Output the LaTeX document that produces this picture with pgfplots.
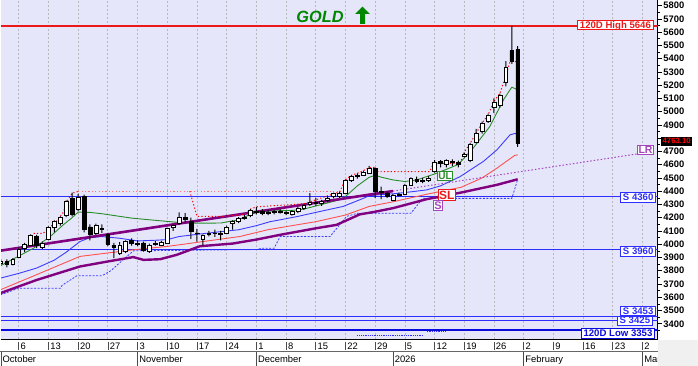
\documentclass[border=0pt]{standalone}
\usepackage{pgfplots}
\pgfplotsset{compat=1.18}
\usepackage{pgfplotstable}
\usepackage{fontspec}
\setmainfont{Liberation Sans}
\newcommand{\fs}[1]{\fontsize{#1}{#1}\selectfont}
\definecolor{bgl}{RGB}{230,230,250}
\definecolor{hred}{RGB}{235,25,25}
\definecolor{sblue}{RGB}{45,45,255}
\definecolor{dblue}{RGB}{10,10,220}
\definecolor{mgreen}{RGB}{40,140,40}
\definecolor{mblue}{RGB}{60,60,255}
\definecolor{mred}{RGB}{255,80,80}
\definecolor{mpurple}{RGB}{128,0,128}
\definecolor{lrpurple}{RGB}{165,70,190}
\definecolor{gridc}{RGB}{185,185,190}
\definecolor{goldgreen}{RGB}{0,135,0}
\definecolor{botgray}{RGB}{240,240,240}

\pgfplotstableread{
i o h l c
-3 3855 3885 3840 3870
-2 3870 3885 3825 3848
-1 3852 3895 3840 3885
0 3905 3975 3900 3965
1 3970 4010 3940 4000
2 3995 4075 3985 4065
3 4058 4070 3970 3995
4 3980 4020 3965 4010
5 4035 4135 4030 4125
6 4125 4180 4090 4170
7 4160 4210 4140 4200
8 4220 4330 4205 4320
9 4345 4390 4210 4225
10 4265 4380 4250 4355
11 4360 4375 4090 4115
12 4130 4150 4030 4075
13 4085 4155 4070 4140
14 4120 4150 4085 4110
15 4075 4085 3985 4000
16 3990 4010 3895 3980
17 3935 4015 3920 3995
18 3950 4030 3935 4020
19 4030 4045 3990 4005
20 4000 4030 3985 4010
21 4010 4020 3945 3955
22 3945 4005 3935 3995
23 4000 4025 3990 4010
24 3995 4025 3985 4015
25 4010 4125 4005 4120
26 4125 4150 4100 4140
27 4160 4240 4150 4205
28 4200 4235 4165 4185
29 4170 4200 4040 4095
30 4085 4115 4020 4080
31 4035 4075 3990 4070
32 4075 4100 4060 4085
33 4085 4110 4055 4080
34 4075 4100 4030 4085
35 4085 4140 4080 4130
36 4160 4180 4110 4170
37 4170 4205 4160 4195
38 4195 4220 4185 4205
39 4215 4265 4205 4255
40 4250 4280 4225 4240
41 4245 4265 4220 4235
42 4235 4260 4220 4240
43 4240 4260 4225 4245
44 4245 4265 4230 4240
45 4240 4250 4220 4235
46 4225 4255 4215 4245
47 4245 4280 4235 4270
48 4270 4305 4260 4295
49 4300 4385 4290 4315
50 4315 4350 4290 4310
51 4310 4335 4290 4320
52 4330 4365 4315 4345
53 4360 4390 4345 4385
54 4362 4395 4350 4385
55 4385 4490 4380 4485
56 4485 4520 4470 4510
57 4510 4535 4495 4520
58 4523 4555 4515 4545
59 4538 4590 4530 4570
60 4570 4580 4350 4400
61 4390 4435 4340 4400
62 4385 4400 4350 4360
63 4335 4380 4325 4370
64 4370 4390 4360 4375
65 4375 4455 4370 4445
66 4448 4505 4440 4495
67 4490 4510 4460 4473
68 4475 4500 4460 4485
69 4485 4515 4470 4500
70 4550 4635 4540 4620
71 4625 4635 4580 4610
72 4600 4640 4580 4630
73 4625 4640 4590 4615
74 4620 4630 4580 4600
75 4665 4690 4655 4680
76 4630 4765 4620 4755
77 4765 4870 4760 4835
78 4850 4925 4835 4910
79 4925 4985 4915 4975
80 5030 5100 4990 5070
81 5045 5135 5030 5120
82 5220 5380 5190 5335
83 5460 5646 5360 5380
84 5470 5495 4735 4763.1
}\candles

\pgfplotsset{base/.style={
  at={(1pt,26.7pt)}, anchor=south west,
  scale only axis, width=656.7pt, height=339.3pt,
  xmin=-2.98, xmax=107.56, ymin=3283, ymax=5842,
  clip mode=individual}}

\begin{document}
\begin{tikzpicture}[x=1pt,y=1pt]
\path[use as bounding box] (0,0) rectangle (698,366);
\fill[white] (0,0) rectangle (698,366);

\begin{axis}[base,
  axis background/.style={fill=bgl},
  axis x line*=bottom, axis y line*=right,
  axis line style={black, line width=0.8pt},
  xtick={0,5,...,105}, xticklabels={}, xmajorgrids,
  x tick style={draw=none},
  grid style={gridc, line width=0.7pt, dash pattern=on 2.2pt off 1.8pt},
  ytick={3400,3500,...,4700,4900,5000,...,5800},
  extra y ticks={4800}, extra y tick labels={},
  extra y tick style={tick style={black, line width=0.6pt}},
  minor ytick={3350,3450,...,5750},
  y tick style={black, line width=0.6pt},
  tick align=outside, major tick length=4pt, minor tick length=2pt,
  yticklabel style={font=\fs{9.4}\bfseries, anchor=west, inner sep=0pt, xshift=1.5pt},
  /pgf/number format/1000 sep={},
  /pgf/number format/assume math mode=true,
]
% horizontal levels
\addplot[hred, line width=1.8pt] coordinates {(-3,5646) (108,5646)};
\addplot[sblue, line width=1.4pt] coordinates {(-3,4360) (108,4360)};
\addplot[sblue, line width=1.2pt] coordinates {(-3,3960) (108,3960)};
\addplot[sblue, line width=1.1pt] coordinates {(-3,3453) (108,3453)};
\addplot[sblue, line width=1.1pt] coordinates {(-3,3425) (108,3425)};
\addplot[dblue, line width=1.9pt] coordinates {(-3,3353) (108,3353)};
% small dotted lows
\addplot[sblue, densely dotted, line width=0.8pt] coordinates {(57,3315) (68,3315)};
\addplot[sblue, densely dotted, line width=0.8pt] coordinates {(68.7,3340) (72,3340)};
% blue dashed stop line
\addplot[mblue, dash pattern=on 2pt off 1.5pt, line width=0.8pt] coordinates {
(-3.1,3618) (-0.5,3660) (0,3668) (7,3668) (7.3,3690) (9.8,3762) (14,3762) (15.5,3800) (18,3900) (19.3,3950) (40,3960) (41,3970) (43,3970) (44,4058) (52.4,4058) (55.2,4210) (57,4233) (66,4233) (68,4346) (83,4346) (84,4490)};
% purple thick MA
\addplot[mpurple, line width=2.4pt, line join=round] coordinates {
(-3.1,3631) (3,3730) (10.3,3832) (15,3870) (19.3,3903) (21,3882) (23.8,3887) (26.6,3920) (30.5,3985) (36,4005) (40,4035) (44,4071) (50,4120) (53.5,4146) (57.4,4225) (60,4245) (63,4272) (68.7,4340) (74.5,4390) (80.5,4448) (84,4490)};
% red MA
\addplot[mred, line width=0.9pt, line join=round] coordinates {
(-3.1,3656) (3,3770) (10.3,3908) (19.3,3958) (24.9,3983) (27.1,3996) (37.2,4058) (42,4110) (44,4125) (50,4170) (55,4220) (59,4285) (63,4320) (69,4380) (74.5,4430) (78,4500) (80.5,4574) (83.5,4670) (84,4674)};
% blue MA
\addplot[mblue, line width=0.9pt, line join=round] coordinates {
(-3.1,3744) (0,3780) (3,3820) (6,3880) (8,3940) (10.3,4020) (12,4050) (14,4058) (17,4045) (20,4025) (23,4030) (25,4035) (27,4058) (29.4,4071) (33,4090) (37,4109) (40,4140) (42.3,4170) (44,4184) (47,4210) (50.7,4247) (54.6,4285) (57.4,4335) (59,4365) (61,4375) (63,4380) (66,4395) (68.7,4410) (71,4440) (74.3,4510) (76,4560) (78.2,4624) (80.5,4712) (82.7,4825) (83.5,4835) (84,4833)};
% green MA
\addplot[mgreen, line width=0.9pt, line join=round] coordinates {
(-3.1,3837) (-0.3,3903) (2.5,3970) (5.3,4058) (7.5,4146) (8.9,4197) (10,4242) (12,4240) (14,4230) (19,4197) (25,4172) (28,4160) (31,4159) (34,4160) (37,4184) (38.5,4215) (40,4240) (43,4252) (46,4255) (48,4265) (51,4300) (54,4335) (55,4360) (57,4440) (59,4505) (60,4520) (61,4506) (63,4485) (65,4473) (67,4485) (70,4530) (72,4565) (74,4602) (76.5,4725) (79.3,4888) (81.6,5089) (83,5185) (84,5164)};
% trend line and its LR extension
\addplot[mpurple, line width=2.6pt] coordinates {(-2.98,3952) (63,4401)};
\addplot[lrpurple, line width=1pt, dash pattern=on 1.5pt off 2pt] coordinates {(63,4401) (104.1,4681)};
% dotted resistance / trailing lines
\addplot[red!55, line width=1pt, dash pattern=on 1.2pt off 2.2pt] coordinates {(10,4400) (55,4400)};
\addplot[red, line width=1pt, dash pattern=on 1.2pt off 2.2pt] coordinates {
(2.5,4082) (4.1,4082) (5.3,4130) (6.5,4180) (7.5,4240) (8.3,4335) (9,4385) (10,4398)};
\addplot[red, line width=1pt, dash pattern=on 1.2pt off 2.2pt] coordinates {
(28.8,4400) (30,4210) (34.4,4210) (36,4215) (38,4225) (39,4265) (40,4282) (48,4305) (49,4320) (52,4365) (54,4395) (55,4485) (56,4520) (57,4535) (58,4555) (59,4578) (60,4580) (60.3,4548) (69.2,4548) (69.8,4610) (74.3,4610) (75,4695) (76,4762) (77,4838) (78,4913) (79,4976) (80,5077) (81,5139) (82,5270) (82.7,5378) (84,5378)};
\end{axis}

% wicks
\begin{axis}[base, hide axis, ybar stacked, bar width=1pt]
\addplot[draw=none, fill=none] table[x=i, y=l] {\candles};
\addplot[draw=none, fill=black] table[x=i, y expr={\thisrow{h}-\thisrow{l}}] {\candles};
\end{axis}

% bodies
\begin{axis}[base, hide axis, ybar stacked, bar width=3.8pt]
\addplot[draw=none, fill=none] table[x=i, y expr={min(\thisrow{o},\thisrow{c})}] {\candles};
\addplot[draw=black, fill=white, line width=0.6pt] table[x=i, y expr={max(\thisrow{c}-\thisrow{o},0)}] {\candles};
\addplot[draw=black, fill=black, line width=0.6pt] table[x=i, y expr={max(\thisrow{o}-\thisrow{c},0)}] {\candles};
\end{axis}

% bottom date band
\draw[gray!80!black, line width=0.6pt] (0,14.3) -- (657.7,14.3);
\foreach \d/\lab in {0/6,5/13,10/20,15/27,20/3,25/10,30/17,35/24,40/1,45/8,50/15,55/22,60/29,65/5,70/12,75/19,80/26,85/2,90/9,95/16,100/23,105/2}{
  \pgfmathsetmacro{\xx}{18.7+5.9408*\d}
  \draw[gray!60!black, line width=0.6pt] (\xx,24.3) -- (\xx,16);
  \node[anchor=base west, inner sep=0pt, font=\fs{9.4}] at (\xx+1.8,16.8) {\lab};
}
\foreach \d/\lab in {-3/October,20/November,40/December,63/2026,85/February,105/Mar}{
  \pgfmathsetmacro{\xx}{18.7+5.9408*\d}
  \draw[gray!60!black, line width=0.6pt] (\xx,14.3) -- (\xx,0);
  \node[anchor=base west, inner sep=0pt, font=\fs{9.4}] at (\xx+1.6,3.4) {\lab};
}
\fill[botgray] (658.1,0) rectangle (698,26.3);

% right level labels
\tikzset{lbl/.style={fill=white, line width=0.8pt, font=\fs{9.6}\bfseries, inner xsep=2.2pt, inner ysep=0.9pt, text height=7pt, text depth=0.9pt, anchor=east}}
\node[lbl, draw=hred, text=hred] at (653.5,341) {120D High 5646};
\node[lbl, draw=sblue, text=sblue] at (656,168.3) {S 4360};
\node[lbl, draw=sblue, text=sblue] at (656,114.3) {S 3960};
\node[lbl, draw=sblue, text=sblue] at (656,55) {S 3453};
\node[lbl, draw=sblue, text=sblue] at (652.7,45.2) {S 3425};
\node[lbl, draw=dblue, text=dblue] at (655,32.3) {120D Low 3353};
\node[fill=black, text=red, font=\fs{7.8}\bfseries, inner xsep=1.2pt, inner ysep=1.7pt, anchor=west] at (661.2,224.7) {4763.10};
\node[fill=white, draw=lrpurple, text=lrpurple, line width=0.8pt, font=\fs{10.5}\bfseries, inner sep=1pt] at (645.5,216) {LR};
\node[fill=white, draw=mgreen, text=mgreen, line width=0.8pt, font=\fs{10}\bfseries, inner sep=1pt] at (445,189.7) {UL};
\node[fill=white, draw=hred, text=hred, line width=0.8pt, font=\fs{12}\bfseries, inner sep=1pt] at (446.7,171) {SL};
\node[fill=white, draw=lrpurple, text=lrpurple, line width=0.8pt, font=\fs{11}\bfseries, inner sep=1pt] at (438,160.7) {S};

% title
\node[anchor=base, inner sep=0pt, text=goldgreen, font=\fs{16.3}\bfseries\itshape] at (320,343.3) {GOLD};
\fill[goldgreen] (362.5,359.3) -- (370,352) -- (365,352) -- (365,342) -- (360,342) -- (360,352) -- (355,352) -- cycle;
\end{tikzpicture}
\end{document}
